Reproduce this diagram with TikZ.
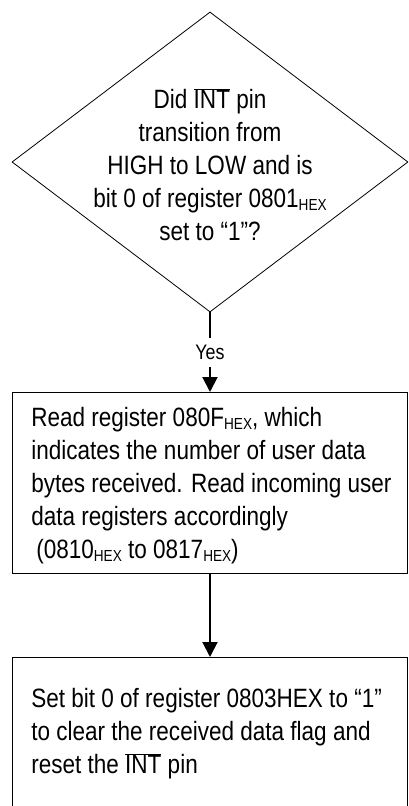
\documentclass[tikz,border=0pt]{standalone}
\usepackage{fontspec}
\setmainfont[FakeStretch=0.85]{Liberation Sans}
\usetikzlibrary{shapes.geometric,arrows.meta}
\newcommand{\hexsub}{\raisebox{-3bp}{\fontsize{16bp}{16bp}\selectfont HEX}}
\newcommand{\intbar}{$\overline{\mbox{INT}}$}
\tikzstyle{decision} = [draw=black,line width=0.8bp,diamond,inner sep=0pt,minimum width=396bp,minimum height=300bp]
\tikzstyle{stepbox} = [draw=black,line width=0.8bp,rectangle,inner sep=0pt,minimum width=395bp]
\tikzstyle{flowtext} = [inner sep=0pt,font=\fontsize{26.5bp}{33bp}\selectfont]
\tikzstyle{flowline} = [line width=2bp,-{Triangle[length=15bp,width=15bp]}]

\begin{document}
\begin{tikzpicture}[x=1bp,y=-1bp]
  \useasboundingbox (0,0) rectangle (408,806);
  \clip (0,0) rectangle (408,806);
  \node[decision] (check) at (210,162) {};
  \node[flowtext,align=center,yshift=-3bp] (checktext) at (check.center)
    {Did \intbar{} pin\\ transition from\\ HIGH to LOW and is\\ bit 0 of register 0801\hexsub\\ set to “1”?};
  \node[stepbox,minimum height=181bp,anchor=north] (read) at (210,392) {};
  \node[flowtext,align=left,anchor=north west] (readtext) at ([xshift=19bp,yshift=-15bp]read.north west)
    {Read register 080F\hexsub, which\\ indicates the number of user data\\ bytes received. Read incoming user\\ data registers accordingly\\ \hspace{5bp}(0810\hexsub{} to 0817\hexsub)};
  \node[stepbox,minimum height=200bp,anchor=north] (clear) at (210,657) {};
  \node[flowtext,align=left,anchor=north west] (cleartext) at ([xshift=19bp,yshift=-31bp]clear.north west)
    {Set bit 0 of register 0803HEX to “1”\\ to clear the received data flag and\\ reset the \intbar{} pin};
  % connectors
  \draw[flowline] (check.south) -- node[fill=white,inner xsep=2bp,inner ysep=7bp,font=\fontsize{21bp}{24bp}\selectfont] (yes) {Yes} (read.north);
  \draw[flowline] (read.south) -- (clear.north);
\end{tikzpicture}
\end{document}
